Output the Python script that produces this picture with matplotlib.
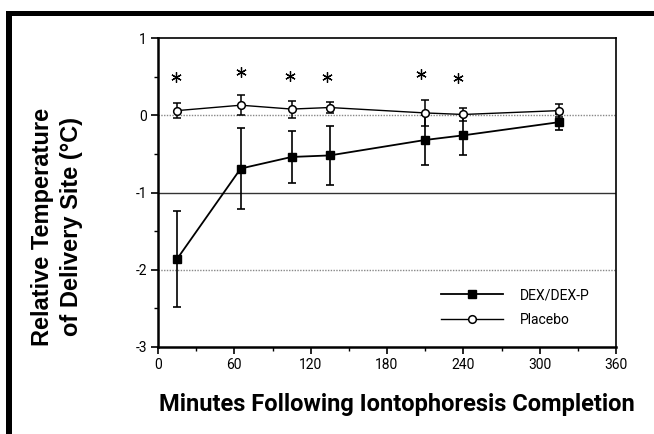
import matplotlib
matplotlib.use("Agg")
from matplotlib import pyplot as plt
from matplotlib.patches import Rectangle
import numpy as np

# minutes after iontophoresis
minutes = [15, 65, 105, 135, 210, 240, 315]

# DEX/DEX-P group
dex_mean = [-1.86, -0.69, -0.54, -0.52, -0.32, -0.26, -0.09]
dex_err = [0.62, 0.53, 0.34, 0.38, 0.32, 0.25, 0.10]

# placebo group
plc_mean = [0.06, 0.13, 0.08, 0.10, 0.03, 0.01, 0.06]
plc_err = [0.10, 0.13, 0.11, 0.07, 0.17, 0.09, 0.08]

# significance markers
sig_x = [14, 65, 104, 133, 207, 236]
sig_y = [0.49, 0.56, 0.51, 0.49, 0.53, 0.48]

x_ticks = [0, 60, 120, 180, 240, 300, 360]
y_ticks = [-3, -2, -1, 0, 1]

plt.rcParams['axes.unicode_minus'] = False
narrow = ['Roboto', 'DejaVu Sans']

W, H = 654, 434
fig = plt.figure(figsize=(W / 100, H / 100), dpi=100)
ax = fig.add_axes([158 / W, 1 - 347 / H, (616 - 158) / W, (347 - 38) / H])

# reference lines
ax.axhline(0, color='#888888', lw=1.0, ls=(0, (1, 1)), zorder=1)
ax.axhline(-1, color='#333333', lw=1.0, zorder=1)
ax.axhline(-2, color='#888888', lw=1.0, ls=(0, (1, 1)), zorder=1)

eb1 = ax.errorbar(minutes, dex_mean, yerr=dex_err, color='black', lw=1.3,
                  marker='s', ms=5.5, mfc='black', mec='black',
                  elinewidth=1.2, capsize=3, capthick=1.2, zorder=3)
eb2 = ax.errorbar(minutes, plc_mean, yerr=plc_err, color='black', lw=1.0,
                  marker='o', ms=5.5, mfc='white', mec='black', mew=1.1,
                  elinewidth=1.1, capsize=3, capthick=1.1, zorder=4)

ax.plot(sig_x, sig_y, ls='none', marker=(6, 2, 0), ms=7.5, mew=0.9, color='black')

ax.set_xlim(0, 360)
ax.set_ylim(-3, 1)
ax.set_xticks(x_ticks)
ax.set_xticks(np.arange(30, 360, 60), minor=True)
ax.set_yticks(y_ticks)
ax.set_yticks([-2.5, -1.5, -0.5, 0.5], minor=True)
ax.set_xticklabels([str(v) for v in x_ticks], family=narrow, fontsize=10)
ax.set_yticklabels([str(v) for v in y_ticks], family=narrow, fontsize=10)
ax.tick_params(which='major', direction='out', length=5, width=1.2, pad=3)
ax.tick_params(which='minor', direction='out', length=3, width=1.0)

ax.spines['left'].set_linewidth(1.8)
ax.spines['bottom'].set_linewidth(1.8)
ax.spines['top'].set_linewidth(1.2)
ax.spines['right'].set_linewidth(1.2)

ax.legend([eb1.lines[0], eb2.lines[0]], ['DEX/DEX-P', 'Placebo'],
          loc='lower right', frameon=False, bbox_to_anchor=(0.97, 0.025),
          handlelength=4.5, handletextpad=1.2, labelspacing=0.75,
          prop={'family': narrow, 'size': 10})

fig.text(397 / W, 1 - 404 / H, 'Minutes Following Iontophoresis Completion',
         ha='center', va='center', fontsize=17, fontweight='bold', family=narrow)
fig.text(57 / W, 1 - 227 / H, 'Relative Temperature\nof Delivery Site (\u00b0C)',
         ha='center', va='center', rotation=90, fontsize=17, fontweight='bold',
         family=['Liberation Sans', 'DejaVu Sans'], linespacing=1.38)

# black frame on top and left edge
fig.add_artist(Rectangle((6 / W, 1 - 16 / H), 1, 5 / H, transform=fig.transFigure,
                         color='black', lw=0))
fig.add_artist(Rectangle((6 / W, 0), 6 / W, 1 - 11 / H, transform=fig.transFigure,
                         color='black', lw=0))

fig.savefig('out.png', dpi=100)
